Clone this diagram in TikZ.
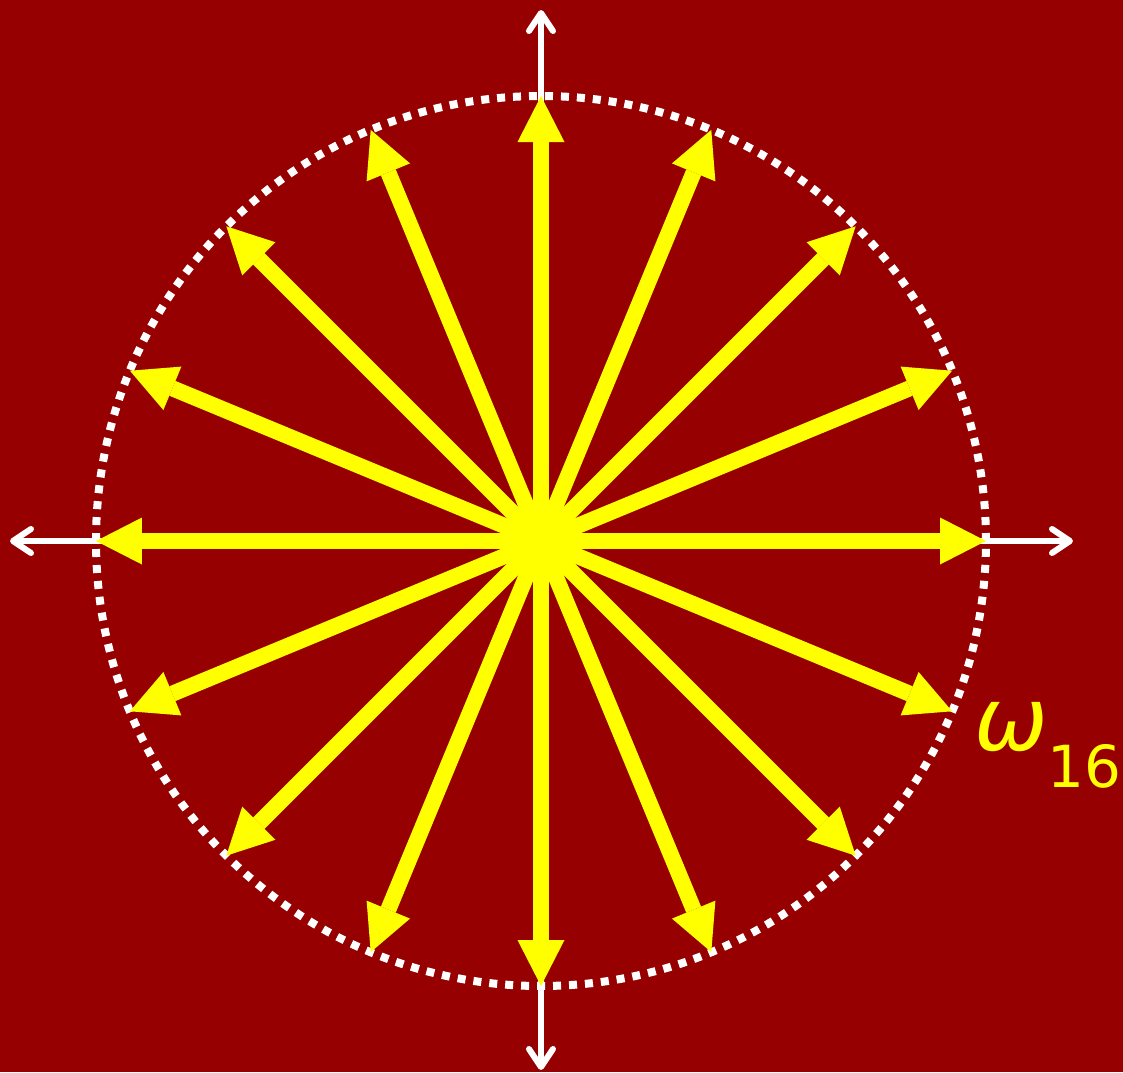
\documentclass[tikz,border=0pt]{standalone}
\usepackage{fontspec}
\newfontfamily\labelfont{DejaVu Sans}
\usetikzlibrary{arrows.meta}
\definecolor{bgred}{RGB}{150,0,0}
\definecolor{rootyellow}{RGB}{255,255,0}
\tikzset{
  axis/.style={{Straight Barb[length=18pt,width=24pt,round]}-{Straight Barb[length=18pt,width=24pt,round]}, white, line width=6pt},
  unitcircle/.style={white, line width=8pt, dash pattern=on 8pt off 7.98pt},
  root/.style={-{Triangle[length=46pt,width=47pt,line width=0pt]}, rootyellow, line width=16pt},
  rootlabel/.style={text=rootyellow, inner sep=0pt, anchor=base west, font=\labelfont}
}
\begin{document}
\begin{tikzpicture}[x=1pt,y=1pt]
    \fill[bgred] (-541,-531) rectangle (582,541);
    \useasboundingbox (-541,-531) rectangle (582,541);
    \coordinate (O) at (0,0);
    \coordinate (xl) at (-531,0);
    \coordinate (xr) at (532,0);
    \coordinate (yb) at (0,-529);
    \coordinate (yt) at (0,531);
    \draw[axis] (xl) -- (xr);
    \draw[axis] (yb) -- (yt);
    \draw[unitcircle] (O) circle (445);
    \foreach \k in {0,...,15}{
        \coordinate (w\k) at (\k*22.5:445);
        \draw[root] (O) -- (w\k);
    }
    \node[rootlabel] (omega) at (433,-209) {\fontsize{88}{88}\selectfont\itshape ω\raisebox{-37pt}{\upshape\fontsize{58}{58}\selectfont 16}};
\end{tikzpicture}
\end{document}
